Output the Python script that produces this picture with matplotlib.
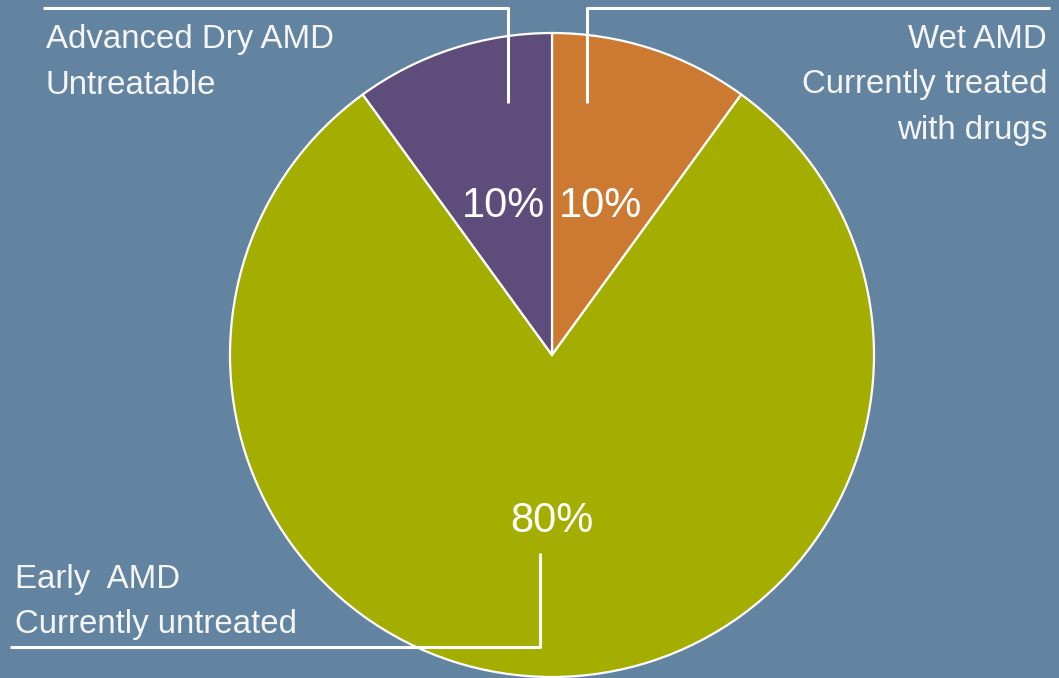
import matplotlib

matplotlib.use("Agg")
import matplotlib.pyplot as plt

# figure in pixel units (y measured from the top)
W, H = 1059, 678

segments = ["Wet AMD", "Early AMD", "Advanced Dry AMD"]
shares = [10, 80, 10]
colors = ["#CC7A32", "#A4AE00", "#5E4D7B"]
bg = "#6284A0"

label_lines = {
    "Wet AMD": ["Wet AMD", "Currently treated", "with drugs"],
    "Early AMD": ["Early  AMD", "Currently untreated"],
    "Advanced Dry AMD": ["Advanced Dry AMD", "Untreatable"],
}


def fy(y):
    return H - y


fig = plt.figure(figsize=(W / 100, H / 100), dpi=100, facecolor=bg)
ax = fig.add_axes([0, 0, 1, 1])
ax.set_facecolor(bg)

cx, cy, r = 552, 355, 322
wedges, texts, autotexts = ax.pie(
    shares,
    colors=colors,
    startangle=90,
    counterclock=False,
    center=(cx, fy(cy)),
    radius=r,
    autopct="%.0f%%",
    pctdistance=0.485,
    wedgeprops=dict(edgecolor="white", linewidth=1.6),
    textprops=dict(color="white", fontsize=30, family="Liberation Sans"),
)
autotexts[1].set_position((cx, fy(cy) - 0.515 * r))

ax.set_xlim(0, W)
ax.set_ylim(0, H)
ax.set_aspect("equal")
ax.axis("off")

txt = dict(color="#F5F5F5", fontsize=23.8, family="Liberation Sans", va="baseline")
lh = 45.5

for i, s in enumerate(label_lines["Advanced Dry AMD"]):
    ax.text(46, fy(48 + i * lh), s, ha="left", **txt)
for i, s in enumerate(label_lines["Wet AMD"]):
    ax.text(1047, fy(48 + i * lh), s, ha="right", **txt)
for i, s in enumerate(label_lines["Early AMD"]):
    ax.text(15, fy(588 + i * lh), s, ha="left", **txt)

lk = dict(color="white", linewidth=2.2, solid_capstyle="butt")
ax.plot([43, 508, 508], [fy(8), fy(8), fy(103)], **lk)
ax.plot([587, 587, 1050], [fy(103), fy(8), fy(8)], **lk)
ax.plot([540, 540, 10], [fy(553), fy(647), fy(647)], **lk)

fig.savefig("out.png", dpi=100, facecolor=bg)
